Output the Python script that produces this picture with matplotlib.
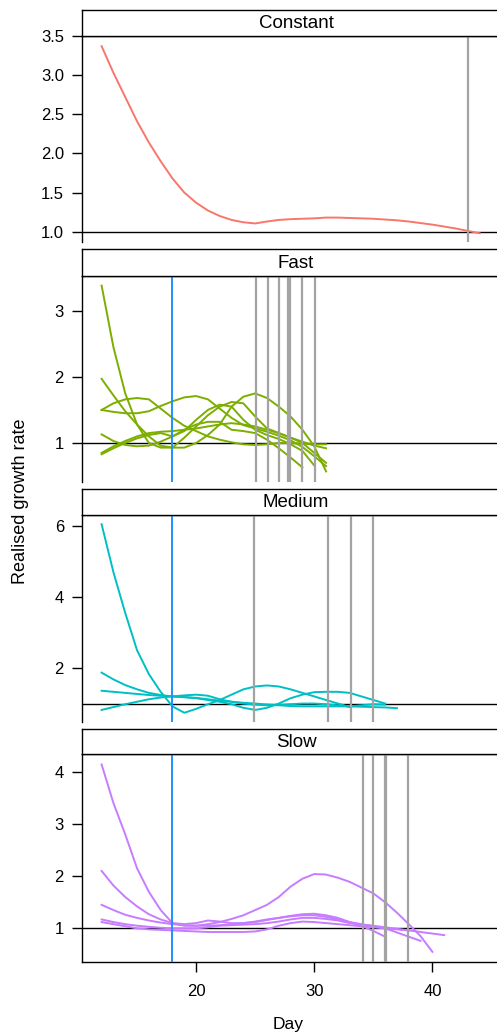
import matplotlib
matplotlib.use("Agg")
import matplotlib.pyplot as plt

plt.rcParams['font.family'] = ['Liberation Sans', 'DejaVu Sans']

# ---------------- data ----------------
panels = ["Constant", "Fast", "Medium", "Slow"]
colors = {"Constant": "#F8766D", "Fast": "#7CAE00", "Medium": "#00BFC4", "Slow": "#C77CFF"}

# Constant (days 12..44)
const_vals = [3.37, 3.03, 2.72, 2.41, 2.14, 1.90, 1.68, 1.50, 1.37, 1.27, 1.20, 1.15,
              1.12, 1.105, 1.13, 1.15, 1.16, 1.165, 1.17, 1.18, 1.18, 1.175, 1.17, 1.165,
              1.155, 1.145, 1.13, 1.11, 1.09, 1.065, 1.04, 1.01, 0.98]

# Fast (all start day 12)
fast_1 = [3.38, 2.45, 1.75, 1.28, 1.00, 0.93, 0.93, 1.08, 1.25, 1.42, 1.55, 1.62, 1.60,
          1.40, 1.22, 1.15, 1.08, 1.00, 0.85, 0.70]
fast_2 = [1.97, 1.72, 1.48, 1.28, 1.10, 0.96, 0.93, 0.93, 1.00, 1.12, 1.28, 1.55, 1.70,
          1.75, 1.68, 1.55, 1.40, 1.20, 0.95, 0.57]
fast_3 = [1.50, 1.60, 1.66, 1.68, 1.66, 1.52, 1.38, 1.26, 1.18, 1.10, 1.05, 1.01, 0.98,
          0.97, 0.98, 1.00, 1.00, 0.99, 0.98, 0.98]
fast_4 = [1.50, 1.47, 1.45, 1.45, 1.48, 1.56, 1.63, 1.69, 1.71, 1.66, 1.52, 1.38, 1.27,
          1.22, 1.17, 1.11, 1.04, 0.94, 0.80, 0.65]
fast_5 = [1.13, 1.03, 0.97, 0.95, 0.96, 1.02, 1.10, 1.20, 1.28, 1.32, 1.32, 1.20, 1.18,
          1.15, 1.05, 0.92, 0.78, 0.63]
fast_6 = [0.85, 0.95, 1.03, 1.10, 1.15, 1.17, 1.18, 1.20, 1.22, 1.25, 1.28, 1.30, 1.28,
          1.25, 1.20, 1.15, 1.08, 1.02, 0.96, 0.92]
fast_7 = [0.83, 0.92, 1.00, 1.07, 1.12, 1.15, 1.10, 1.18, 1.35, 1.50, 1.58, 1.55, 1.35,
          1.20, 1.12, 1.06, 0.98, 0.88, 0.66]

# Medium
med_1 = [6.05, 4.70, 3.55, 2.50, 1.83, 1.33, 0.92, 0.74, 0.85, 0.98, 1.10, 1.25, 1.40,
         1.48, 1.51, 1.48, 1.40, 1.30, 1.20, 1.10, 1.00, 0.90]
med_2 = [1.87, 1.68, 1.52, 1.40, 1.30, 1.24, 1.20, 1.18, 1.15, 1.10, 1.05, 0.98, 0.88,
         0.82, 0.88, 1.00, 1.15, 1.25, 1.32, 1.33, 1.33, 1.30, 1.20, 1.10, 1.00]
med_3 = [1.36, 1.33, 1.30, 1.27, 1.24, 1.22, 1.20, 1.18, 1.16, 1.12, 1.08, 1.05, 1.02,
         1.00, 0.97, 0.95, 0.93, 0.92, 0.92, 0.92, 0.92, 0.92, 0.91, 0.90, 0.89, 0.87]
med_4 = [0.82, 0.90, 0.98, 1.05, 1.12, 1.17, 1.20, 1.23, 1.25, 1.22, 1.12, 1.05, 1.00,
         0.97, 0.95, 0.96, 0.98, 1.00, 1.00, 0.98, 0.95, 0.92, 0.95, 0.98, 0.97]

# Slow
slow_1 = [4.14, 3.40, 2.80, 2.15, 1.70, 1.35, 1.10, 1.05, 1.05, 1.08, 1.12, 1.18, 1.25,
          1.35, 1.45, 1.60, 1.80, 1.95, 2.04, 2.03, 1.97, 1.89, 1.78, 1.67, 1.50, 1.30,
          1.08, 0.85, 0.55]
slow_2 = [2.10, 1.82, 1.60, 1.42, 1.27, 1.17, 1.10, 1.08, 1.10, 1.15, 1.13, 1.10, 1.10,
          1.12, 1.16, 1.20, 1.24, 1.27, 1.28, 1.25, 1.20, 1.12, 1.05, 0.95, 0.84]
slow_3 = [1.45, 1.35, 1.26, 1.20, 1.15, 1.11, 1.08, 1.06, 1.05, 1.05, 1.06, 1.08, 1.10,
          1.13, 1.17, 1.20, 1.23, 1.25, 1.25, 1.22, 1.17, 1.12, 1.08, 1.04, 1.00, 0.92,
          0.84, 0.76]
slow_4 = [1.17, 1.12, 1.08, 1.05, 1.03, 1.01, 1.00, 1.00, 1.00, 1.02, 1.05, 1.06, 1.07,
          1.08, 1.10, 1.13, 1.17, 1.20, 1.20, 1.18, 1.15, 1.10, 1.07, 1.05, 1.02, 0.99,
          0.96, 0.93, 0.90, 0.87]
slow_5 = [1.12, 1.08, 1.04, 1.00, 0.98, 0.97, 0.96, 0.95, 0.94, 0.93, 0.93, 0.93, 0.93,
          0.94, 0.98, 1.05, 1.10, 1.13, 1.12, 1.10, 1.08, 1.06, 1.04, 1.02, 1.00, 0.98,
          0.96]

series = {
    "Constant": [const_vals],
    "Fast": [fast_1, fast_2, fast_3, fast_4, fast_5, fast_6, fast_7],
    "Medium": [med_1, med_2, med_3, med_4],
    "Slow": [slow_1, slow_2, slow_3, slow_4, slow_5],
}
start_day = 12

grey_days = {
    "Constant": [43.0],
    "Fast": [25.1, 26.05, 27.05, 27.8, 27.95, 29.0, 30.1],
    "Medium": [24.9, 31.2, 33.1, 35.0],
    "Slow": [34.1, 35.0, 35.95, 36.1, 37.9],
}
blue_day = {"Constant": None, "Fast": 18, "Medium": 18, "Slow": 18}

ylims = {"Constant": (0.868, 3.5), "Fast": (0.41, 3.53),
         "Medium": (0.48, 6.31), "Slow": (0.355, 4.34)}
yticks = {"Constant": [1.0, 1.5, 2.0, 2.5, 3.0, 3.5], "Fast": [1, 2, 3],
          "Medium": [2, 4, 6], "Slow": [1, 2, 3, 4]}
ytick_labels = {"Constant": ["1.0", "1.5", "2.0", "2.5", "3.0", "3.5"],
                "Fast": ["1", "2", "3"], "Medium": ["2", "4", "6"],
                "Slow": ["1", "2", "3", "4"]}
xticks = [20, 30, 40]

# ---------------- layout ----------------
W, H = 497, 1032
fig = plt.figure(figsize=(W / 100, H / 100), dpi=100)

left_px, right_px = 82, 510
# (strip top, panel top, panel bottom) in pixels
boxes = {"Constant": (10, 36, 242), "Fast": (249, 275.7, 482),
         "Medium": (489, 515, 722), "Slow": (729, 754, 962)}

def frac(x0, y0, x1, y1):
    return [x0 / W, 1 - y1 / H, (x1 - x0) / W, (y1 - y0) / H]

for name in panels:
    st, pt, pb = boxes[name]
    ax = fig.add_axes(frac(left_px, pt, right_px, pb))
    col = colors[name]
    for vals in series[name]:
        days = list(range(start_day, start_day + len(vals)))
        ax.plot(days, vals, color=col, lw=1.4, zorder=3, solid_joinstyle='round')
    ax.axhline(1, color='black', lw=1.0, zorder=2)
    for d in grey_days[name]:
        ax.axvline(d, color='#A3A3A3', lw=1.6, zorder=4)
    if blue_day[name] is not None:
        ax.axvline(blue_day[name], color='#1E90FF', lw=1.4, zorder=5)
    ax.set_xlim(10.34, 46.57)
    ax.set_ylim(*ylims[name])
    ax.set_yticks(yticks[name])
    ax.set_yticklabels(ytick_labels[name])
    ax.tick_params(axis='y', direction='out', length=7, width=1, pad=6, labelsize=12)
    ax.spines['right'].set_visible(False)
    ax.spines['top'].set_linewidth(1.0)
    ax.spines['left'].set_linewidth(1.0)
    if name == "Slow":
        ax.set_xticks(xticks)
        ax.tick_params(axis='x', direction='out', length=7, width=1, pad=9, labelsize=12)
        ax.spines['bottom'].set_linewidth(1.0)
    else:
        ax.set_xticks([])
        ax.spines['bottom'].set_visible(False)

    sax = fig.add_axes(frac(left_px, st, right_px, pt))
    sax.set_xticks([])
    sax.set_yticks([])
    sax.spines['right'].set_visible(False)
    for s in ['top', 'left', 'bottom']:
        sax.spines[s].set_linewidth(1.0)
    sax.text(0.5, 0.47, name, ha='center', va='center', fontsize=13.5,
             transform=sax.transAxes)

fig.text(21 / W, 1 - 501 / H, "Realised growth rate", rotation=90,
         ha='center', va='center', fontsize=13)
fig.text(288 / W, 1 - 1029 / H, "Day", ha='center', va='baseline', fontsize=12.5)

fig.savefig("out.png", dpi=100)
